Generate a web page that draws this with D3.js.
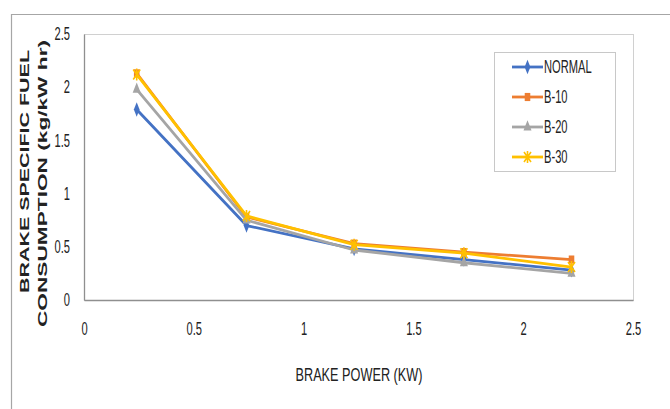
<!DOCTYPE html>
<html>
<head>
<meta charset="utf-8">
<script src="https://cdn.jsdelivr.net/npm/d3@7"></script>
<style>
  body { margin: 0; background: #fff; }
  text { font-family: "Liberation Sans", Arial, sans-serif; fill: #222; }
</style>
</head>
<body>
<script>
// BSFC vs brake power for the four fuels

const brakePower = [0.24, 0.74, 1.23, 1.73, 2.22];
const normal = [1.79, 0.70, 0.48, 0.38, 0.28];
const b10 = [2.13, 0.78, 0.53, 0.45, 0.38];
const b20 = [1.98, 0.75, 0.47, 0.35, 0.25];
const b30 = [2.12, 0.79, 0.52, 0.44, 0.31];
const seriesNames = ['NORMAL', 'B-10', 'B-20', 'B-30'];
const ticks = [0, 0.5, 1, 1.5, 2, 2.5];

// the original picture is squeezed sideways, so text gets this x scale
const squeeze = 0.62;

var margin = {top: 34, bottom: 109, left: 84, right: 37},
    width = 670 - margin.left - margin.right,
    height = 409 - margin.top - margin.bottom;

var svg = d3.select("body").append("svg")
    .attr("width", 670)
    .attr("height", 409);

// outer frame (only top and left visible)
svg.append("path")
    .attr("d", "M11.5,409 V14.5 H670")
    .attr("fill", "none")
    .attr("stroke", "#a6a6a6")
    .attr("stroke-width", 1.2);

var g = svg.append("g")
    .attr("transform", "translate(" + margin.left + "," + margin.top + ")");

const xScale = d3.scaleLinear().domain([0, 2.5]).range([0, width]);
const yScale = d3.scaleLinear().domain([0, 2.5]).range([height, 0]);

// plot area border
g.append("rect")
    .attr("x", 0.5).attr("y", 0.5)
    .attr("width", width).attr("height", height)
    .attr("fill", "none")
    .attr("stroke", "#d0d0d0");

const xAxis = d3.axisBottom(xScale).tickValues(ticks).tickSize(0).tickPadding(22)
    .tickFormat(d3.format("~g"));
const yAxis = d3.axisLeft(yScale).tickValues(ticks).tickSize(0).tickPadding(14)
    .tickFormat(d3.format("~g"));

g.append("g")
    .attr("transform", "translate(0," + height + ")")
    .call(xAxis)
    .call(a => a.select(".domain").attr("stroke", "#8f8f8f").attr("stroke-width", 1.3))
    .selectAll("text")
    .attr("font-size", 18)
    .attr("font-family", "'Liberation Sans', Arial, sans-serif")
    .attr("fill", "#222")
    .attr("transform", "scale(" + squeeze + ",1)");

g.append("g")
    .call(yAxis)
    .call(a => a.select(".domain").attr("stroke", "#8f8f8f").attr("stroke-width", 1.3))
    .selectAll("text")
    .attr("font-size", 18)
    .attr("font-family", "'Liberation Sans', Arial, sans-serif")
    .attr("fill", "#222")
    .attr("x", -14 / squeeze)
    .attr("transform", "scale(" + squeeze + ",1)");

// axis titles
svg.append("text")
    .attr("transform", "translate(359,381) scale(" + squeeze + ",1)")
    .attr("text-anchor", "middle")
    .attr("font-size", 18)
    .attr("textLength", 127 / squeeze)
    .attr("lengthAdjust", "spacingAndGlyphs")
    .text("BRAKE POWER (KW)");

svg.append("text")
    .attr("transform", "translate(29,293) scale(0.6,1) rotate(-90)")
    .attr("font-weight", "bold")
    .attr("font-size", 21)
    .attr("textLength", 243)
    .attr("lengthAdjust", "spacingAndGlyphs")
    .text("BRAKE SPECIFIC FUEL");

svg.append("text")
    .attr("transform", "translate(47,327) scale(0.6,1) rotate(-90)")
    .attr("font-weight", "bold")
    .attr("font-size", 21)
    .attr("textLength", 287)
    .attr("lengthAdjust", "spacingAndGlyphs")
    .text("CONSUMPTION  (kg/kW hr)");

// series
const colors = ["#4472c4", "#ed7d31", "#a5a5a5", "#ffc000"];
const allValues = [normal, b10, b20, b30];
const starPath = "M-3.5,-5L3.5,5M-3.5,5L3.5,-5M0,-6V6";

const drawMarker = (sel, i) => {
    if (i === 3) {
        sel.append("path").attr("d", starPath)
            .attr("stroke", colors[i]).attr("stroke-width", 1.6).attr("fill", "none");
    } else {
        const type = [d3.symbolDiamond, d3.symbolSquare, d3.symbolTriangle][i];
        const size = [50, 55, 50][i];
        sel.append("path")
            .attr("d", d3.symbol().type(type).size(size))
            .attr("transform", "scale(0.75,1.1)")
            .attr("fill", colors[i]);
    }
};

const line = d3.line()
    .x((d, i) => xScale(brakePower[i]))
    .y(d => yScale(d));

allValues.forEach((vals, i) => {
    const s = g.append("g");
    s.append("path")
        .datum(vals)
        .attr("d", line)
        .attr("fill", "none")
        .attr("stroke", colors[i])
        .attr("stroke-width", 2.8)
        .attr("stroke-linejoin", "round");
    vals.forEach((v, j) => {
        const m = s.append("g")
            .attr("transform", "translate(" + xScale(brakePower[j]) + "," + yScale(v) + ")");
        drawMarker(m, i);
    });
});

// legend
const legend = svg.append("g");
legend.append("rect")
    .attr("x", 494.5).attr("y", 52.5)
    .attr("width", 121).attr("height", 119)
    .attr("fill", "#fff")
    .attr("stroke", "#c8c8c8");

seriesNames.forEach((name, i) => {
    const y = 67 + i * 30;
    legend.append("line")
        .attr("x1", 512).attr("x2", 543)
        .attr("y1", y).attr("y2", y)
        .attr("stroke", colors[i])
        .attr("stroke-width", 2.8);
    drawMarker(legend.append("g").attr("transform", "translate(527.5," + y + ")"), i);
    legend.append("text")
        .attr("transform", "translate(544," + (y + 6) + ") scale(" + squeeze + ",1)")
        .attr("font-size", 18)
        .text(name);
});
</script>
</body>
</html>
